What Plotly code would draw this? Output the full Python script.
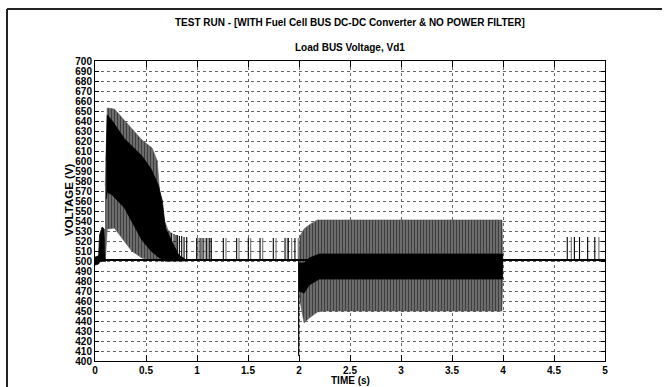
import plotly.graph_objects as go

# ---------------- data ----------------
# steady bus level (V)
base_t = [0.0, 5.0]
base_v = [501, 501]

# start-up ripple and first small bump
noise_t = [0.0, 0.035, 0.045, 0.07, 0.09, 0.10]
noise_hi = [504, 505, 526, 534, 532, 503]
noise_lo = [496, 497, 499, 500, 500, 499]

# start-up burst (0.1 - 0.9 s): outer envelope
burst_t = [0.100, 0.120, 0.190, 0.260, 0.360, 0.460, 0.560, 0.610, 0.640, 0.670, 0.720, 0.750]
burst_hi = [575, 653, 652, 644, 633, 621, 613, 600, 560, 543, 530, 528]
burst_lo = [500, 532, 533, 523, 510, 503, 501, 500, 500, 500, 500, 500]

# start-up burst: dense (black) core
bcore_t = [0.110, 0.120, 0.170, 0.290, 0.460, 0.550, 0.620, 0.660, 0.690, 0.760, 0.820, 0.880]
bcore_hi = [600, 646, 640, 622, 605, 592, 576, 560, 533, 518, 506, 502]
bcore_lo = [562, 569, 566, 553, 521, 510, 504, 502, 500, 500, 500, 500]

# isolated switching spikes
tail_spk_t = [0.752, 0.775, 0.794, 0.807, 0.827, 0.850, 0.873, 0.899]
tail_spk_v = [528, 527, 526, 526, 525, 525, 524, 524]
blk_spk_t = [0.997, 1.030, 1.060, 1.095, 1.125, 1.140, 1.258, 1.389, 1.503, 1.618,
             1.748, 1.863, 1.895, 1.960, 4.630, 4.700, 4.750, 4.830, 4.900]
blk_spk_v = [523, 523, 523, 523, 523, 523, 523, 523, 523, 523,
             523, 523, 523, 523, 524, 524, 524, 524, 524]
gry_spk_t = [1.010, 1.046, 1.080, 1.110, 1.284, 1.412, 1.526, 1.644, 1.775, 1.885,
             1.928, 1.993, 4.670, 4.940]
gry_spk_v = [523, 523, 523, 523, 523, 523, 523, 523, 523, 523,
             523, 523, 524, 524]

# load step dip at 2 s
dip_t = [1.997]
dip_v = [405]

# oscillation 2 - 4 s: outer envelope
osc_t = [1.995, 2.010, 2.050, 2.100, 2.180, 2.250, 3.990, 4.000]
osc_hi = [500, 525, 532, 536, 541, 541, 541, 501]
osc_lo = [500, 460, 438, 443, 449, 450, 450, 501]

# oscillation 2 - 4 s: dense (black) core
ocore_t = [2.000, 2.050, 2.100, 2.200, 3.995]
ocore_hi = [498, 498, 503, 507, 507]
ocore_lo = [470, 468, 476, 482, 482]

x_ticks = [0, 0.5, 1, 1.5, 2, 2.5, 3, 3.5, 4, 4.5, 5]
y_ticks = list(range(400, 701, 10))

NARROW = "Liberation Sans Narrow, Arial Narrow, Liberation Sans, Arial"
WIDE = "Liberation Sans, Arial"

# plot-area geometry in pixels
L, R, T, B = 95, 605, 61, 361
PW, PH = R - L, B - T


def band(t, hi, lo):
    return list(t) + list(t)[::-1], list(hi) + list(lo)[::-1]


def spikes(ts, tops, base):
    xs, ys = [], []
    for t, v in zip(ts, tops):
        xs += [t, t, None]
        ys += [base, v, None]
    return xs, ys


def px(xp):
    return (xp - L) / PW


def py(yp):
    return (B - yp) / PH


fig = go.Figure()

stripe = dict(shape="|", fgcolor="#000000", bgcolor="#7c7c7c", size=3, solidity=0.5)

# outer envelopes (striped)
bx, by = band(burst_t, burst_hi, burst_lo)
fig.add_trace(go.Scatter(x=bx, y=by, fill="toself", mode="lines",
                         line=dict(color="#555555", width=0.6),
                         fillpattern=stripe, hoverinfo="skip"))
ox, oy = band(osc_t, osc_hi, osc_lo)
fig.add_trace(go.Scatter(x=ox, y=oy, fill="toself", mode="lines",
                         line=dict(color="#555555", width=0.6),
                         fillpattern=stripe, hoverinfo="skip"))

# black cores
for tt, hh, ll in [(bcore_t, bcore_hi, bcore_lo), (ocore_t, ocore_hi, ocore_lo),
                   (noise_t, noise_hi, noise_lo)]:
    cx, cy = band(tt, hh, ll)
    fig.add_trace(go.Scatter(x=cx, y=cy, fill="toself", mode="lines",
                             fillcolor="#000000", line=dict(color="#000000", width=0.8),
                             hoverinfo="skip"))

# spikes
sx, sy = spikes(gry_spk_t, gry_spk_v, base_v[0])
fig.add_trace(go.Scatter(x=sx, y=sy, mode="lines", line=dict(color="#7a7a7a", width=1.2),
                         hoverinfo="skip"))
sx, sy = spikes(blk_spk_t + tail_spk_t, blk_spk_v + tail_spk_v, base_v[0])
fig.add_trace(go.Scatter(x=sx, y=sy, mode="lines", line=dict(color="#000000", width=1.1),
                         hoverinfo="skip"))
sx, sy = spikes(dip_t, dip_v, base_v[0])
fig.add_trace(go.Scatter(x=sx, y=sy, mode="lines", line=dict(color="#000000", width=1.2),
                         hoverinfo="skip"))

# baseline
fig.add_trace(go.Scatter(x=base_t, y=base_v, mode="lines",
                         line=dict(color="#000000", width=1.8), hoverinfo="skip"))

axis_font = dict(family=NARROW, size=10, color="#000000", weight="bold")
title_font = dict(family=NARROW, size=10, color="#000000", weight="bold")

fig.update_layout(
    width=665, height=387,
    margin=dict(l=L, r=665 - R, t=T, b=387 - B, autoexpand=False),
    paper_bgcolor="white", plot_bgcolor="white",
    showlegend=False,
    font=dict(family=NARROW, color="#000000"),
    annotations=[
        dict(text="TEST RUN - [WITH Fuel Cell BUS DC-DC Converter & NO POWER FILTER]",
             xref="paper", yref="paper", x=0.5, y=py(22), showarrow=False,
             font=title_font, xanchor="center", yanchor="middle"),
        dict(text="Load BUS Voltage, Vd1",
             xref="paper", yref="paper", x=0.5, y=py(47), showarrow=False,
             font=title_font, xanchor="center", yanchor="middle"),
        dict(text="TIME (s)", xref="paper", yref="paper", x=px(350), y=py(380),
             showarrow=False, font=title_font, xanchor="center", yanchor="middle"),
        dict(text="VOLTAGE (V)", xref="paper", yref="paper", x=px(69), y=py(200),
             showarrow=False,
             font=dict(family=WIDE, size=11.5, color="#000000", weight="bold"),
             xanchor="center", yanchor="middle", textangle=-90),
    ],
    shapes=[
        dict(type="line", xref="paper", yref="paper", x0=px(7), x1=px(7),
             y0=py(9), y1=py(400), line=dict(color="#222222", width=2)),
        dict(type="line", xref="paper", yref="paper", x0=px(7), x1=px(662),
             y0=py(9), y1=py(9), line=dict(color="#222222", width=2)),
    ],
)

fig.update_xaxes(
    range=[0, 5], tickvals=x_ticks, ticks="inside", ticklen=6, tickcolor="#000",
    showline=True, linecolor="#000", linewidth=1, mirror="allticks",
    showgrid=True, gridcolor="#666666", griddash="dot", gridwidth=1,
    zeroline=False, tickfont=axis_font, automargin=False,
)
fig.update_yaxes(
    range=[400, 700], tickvals=y_ticks, ticks="inside", ticklen=4, tickcolor="#000",
    showline=True, linecolor="#000", linewidth=1, mirror="allticks",
    showgrid=True, gridcolor="#666666", griddash="dot", gridwidth=1,
    zeroline=False, tickfont=axis_font, automargin=False,
)

fig.write_html("out.html")
